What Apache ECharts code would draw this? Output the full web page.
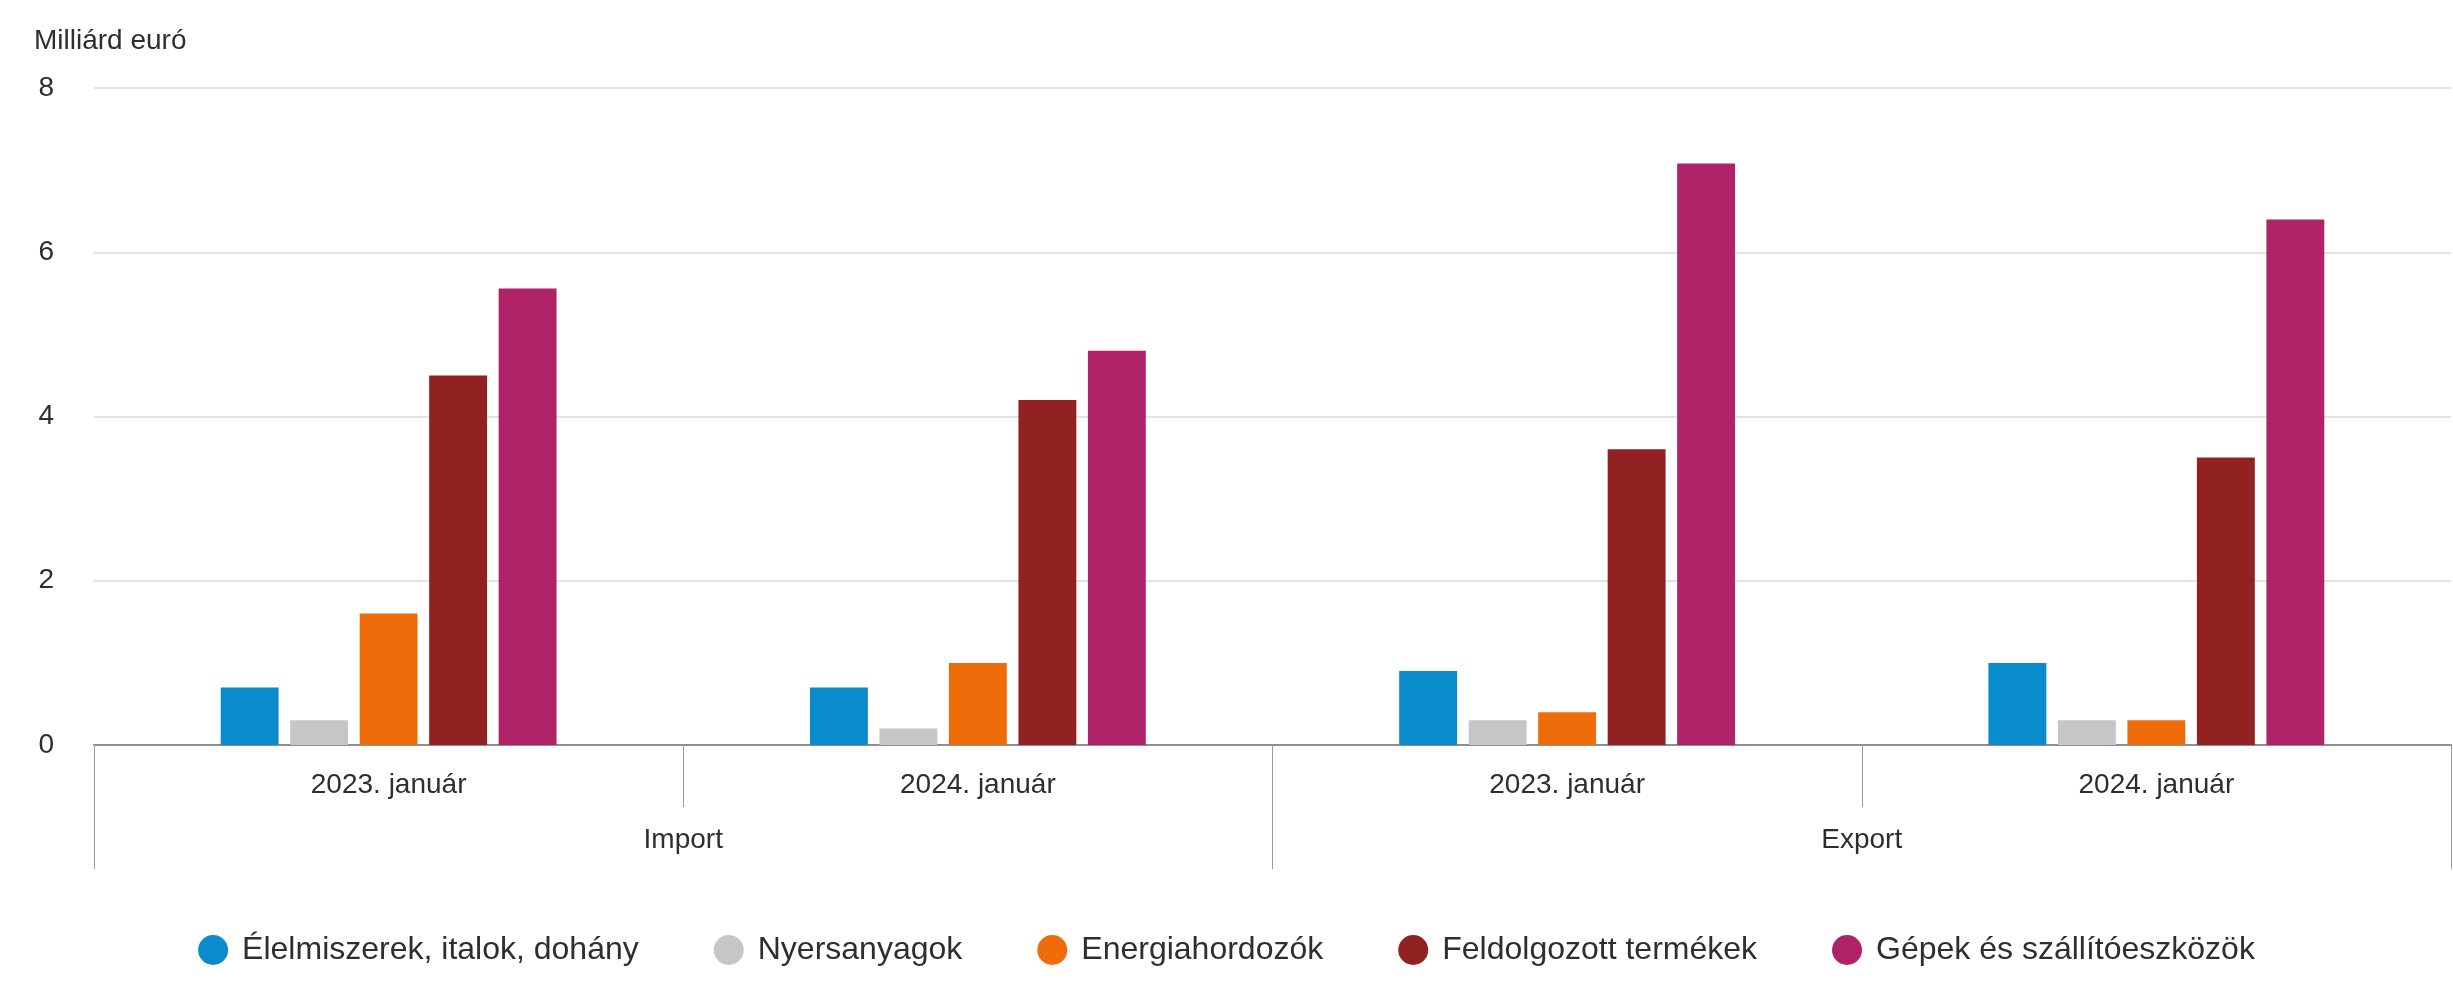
<!DOCTYPE html>
<html>
<head>
<meta charset="utf-8">
<script src="https://cdn.jsdelivr.net/npm/echarts@6/dist/echarts.min.js"></script>
<style>
html,body{margin:0;padding:0;background:#fff;}
#chart{width:2453px;height:985px;}
</style>
</head>
<body>
<div id="chart"></div>
<script>
const categories = ['2023. január', '2024. január', '2023. január', '2024. január'];
const groups = ['Import', 'Export'];
const yTicks = [0, 2, 4, 6, 8];
const unitLabel = 'Milliárd euró';

const seriesNames = ['Élelmiszerek, italok, dohány', 'Nyersanyagok', 'Energiahordozók', 'Feldolgozott termékek', 'Gépek és szállítóeszközök'];
const elelmiszer = [0.7, 0.7, 0.9, 1.0];
const nyersanyag = [0.3, 0.2, 0.3, 0.3];
const energia = [1.6, 1.0, 0.4, 0.3];
const feldolgozott = [4.5, 4.2, 3.6, 3.5];
const gepek = [5.56, 4.8, 7.08, 6.4];
const colors = ['#0a8bcb', '#c6c6c6', '#ee6c0a', '#922222', '#b02369'];

const values = [elelmiszer, nyersanyag, energia, feldolgozott, gepek];
const FONT = 'Liberation Sans, Arial, sans-serif';

const chart = echarts.init(document.getElementById('chart'), null, {renderer: 'canvas'});
chart.setOption({
  animation: false,
  backgroundColor: '#ffffff',
  color: colors,
  title: {
    text: unitLabel,
    left: 29,
    top: 22,
    textStyle: {fontFamily: FONT, fontSize: 28, fontWeight: 'normal', color: '#2e2e2e'}
  },
  grid: {left: 94, right: 2, top: 88, bottom: 240, containLabel: false},
  legend: {
    bottom: 14,
    left: 'center',
    icon: 'circle',
    itemWidth: 30,
    itemHeight: 30,
    itemGap: 75,
    textStyle: {fontFamily: FONT, fontSize: 32, color: '#2e2e2e', padding: [0, 0, 0, 9]},
    data: seriesNames
  },
  xAxis: [
    {
      type: 'category',
      data: categories,
      position: 'bottom',
      offset: 0,
      boundaryGap: true,
      axisLine: {show: true, lineStyle: {color: '#8f8f8f', width: 2}},
      axisTick: {show: true, length: 62, lineStyle: {color: '#9a9a9a', width: 1}},
      axisLabel: {fontFamily: FONT, fontSize: 28, color: '#2e2e2e', margin: 26}
    },
    {
      type: 'category',
      data: groups,
      position: 'bottom',
      offset: 0,
      boundaryGap: true,
      axisLine: {show: false},
      axisTick: {show: true, length: 124, lineStyle: {color: '#9a9a9a', width: 1}},
      axisLabel: {fontFamily: FONT, fontSize: 28, color: '#2e2e2e', margin: 81}
    }
  ],
  yAxis: {
    type: 'value',
    min: yTicks[0],
    max: yTicks[yTicks.length - 1],
    interval: yTicks[1] - yTicks[0],
    axisLine: {show: false},
    axisTick: {show: false},
    axisLabel: {fontFamily: FONT, fontSize: 28, color: '#2e2e2e', margin: 40},
    splitLine: {lineStyle: {color: '#e3e3e3', width: 2}}
  },
  series: seriesNames.map((name, i) => ({
    name: name,
    type: 'bar',
    xAxisIndex: 0,
    data: values[i],
    barGap: '20%',
    barCategoryGap: '43%',
    itemStyle: {color: colors[i]}
  }))
});
</script>
</body>
</html>
